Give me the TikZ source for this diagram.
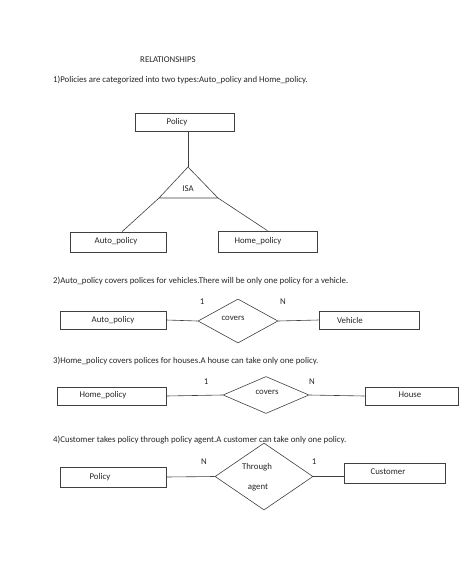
\documentclass[tikz,border=0pt]{standalone}
\usepackage{fontspec}
\setmainfont{Carlito}
\usetikzlibrary{shapes.geometric}
\begin{document}
\begin{tikzpicture}[x=1pt,y=-1pt,
  ln/.style={draw=black!75, line width=0.6pt},
  ent/.style={ln, rectangle, inner sep=0pt},
  rel/.style={ln, diamond, inner sep=0pt},
  lbl/.style={inner sep=0pt, font=\fontsize{8.8}{10}\selectfont, text=black!85},
  txt/.style={lbl, anchor=west}]
\useasboundingbox (0,0) rectangle (474,569);
\fill[white] (0,0) rectangle (474,569);

% headings
\node[lbl] (title) at (168,60) {RELATIONSHIPS};
\node[txt] (s1) at (53,80) {1)Policies are categorized into two types:Auto\_policy and Home\_policy.};
\node[txt] (s2) at (53,281) {2)Auto\_policy covers polices for vehicles.There will be only one policy for a vehicle.};
\node[txt] (s3) at (53,361) {3)Home\_policy covers polices for houses.A house can take only one policy.};
\node[txt] (s4) at (53,440) {4)Customer takes policy through policy agent.A customer can take only one policy.};

% section 1: ISA
\node[ent, minimum width=99pt, minimum height=18pt] (pol) at (184.5,122) {};
\node[lbl] (poll) at (177,122) {Policy};
\coordinate (apex) at (188,167);
\coordinate (tl) at (159,198);
\coordinate (tr) at (218,198);
\draw[ln] (apex) -- (tl) -- (tr) -- cycle;
\node[lbl] (isa) at (188,189) {ISA};
\node[ent, minimum width=96pt, minimum height=20pt] (auto1) at (118,242) {};
\node[lbl] (auto1l) at (116,241) {Auto\_policy};
\node[ent, minimum width=99pt, minimum height=21pt] (home1) at (267.5,241.5) {};
\node[lbl] (home1l) at (258,241) {Home\_policy};
\draw[ln] (pol.south -| apex) -- (apex);
\draw[ln] (tl) -- ([xshift=4pt]auto1.north);
\draw[ln] (tr) -- (home1.north);

% section 2
\node[ent, minimum width=106pt, minimum height=18pt] (auto2) at (113,320) {};
\node[lbl] (auto2l) at (113,320) {Auto\_policy};
\node[rel, minimum width=80pt, minimum height=44pt] (cov2) at (238,321) {};
\node[lbl] (cov2l) at (233,318) {covers};
\node[ent, minimum width=100pt, minimum height=18pt] (veh) at (369,320) {};
\node[lbl] (vehl) at (350,320) {Vehicle};
\draw[ln] (auto2.east) -- (cov2.west);
\draw[ln] (cov2.east) -- (veh.west);
\node[lbl] (c2a) at (202,302) {1};
\node[lbl] (c2b) at (283,302) {N};

% section 3
\node[ent, minimum width=109pt, minimum height=18pt] (home3) at (111.5,396) {};
\node[lbl] (home3l) at (103,395) {Home\_policy};
\node[rel, minimum width=86pt, minimum height=37pt] (cov3) at (266,395) {};
\node[lbl] (cov3l) at (267,392) {covers};
\node[ent, minimum width=93pt, minimum height=18pt] (house) at (411.5,396) {};
\node[lbl] (housel) at (410,395) {House};
\draw[ln] (home3.east) -- (cov3.west);
\draw[ln] (cov3.east) -- (house.west);
\node[lbl] (c3a) at (206,382) {1};
\node[lbl] (c3b) at (312,382) {N};

% section 4
\node[ent, minimum width=106pt, minimum height=20pt] (pol4) at (113,477) {};
\node[lbl] (pol4l) at (100,477) {Policy};
\node[rel, minimum width=98pt, minimum height=67pt] (thr) at (264,476.5) {};
\node[lbl] (thrl1) at (257,467) {Through};
\node[lbl] (thrl2) at (258,487) {agent};
\node[ent, minimum width=101pt, minimum height=20pt] (cust) at (394.5,473) {};
\node[lbl] (custl) at (388,472) {Customer};
\draw[ln] (pol4.east) -- (thr.west);
\draw[ln] (thr.east) -- (thr.east -| cust.west);
\node[lbl] (c4a) at (204,462) {N};
\node[lbl] (c4b) at (314,462) {1};
\end{tikzpicture}
\end{document}
